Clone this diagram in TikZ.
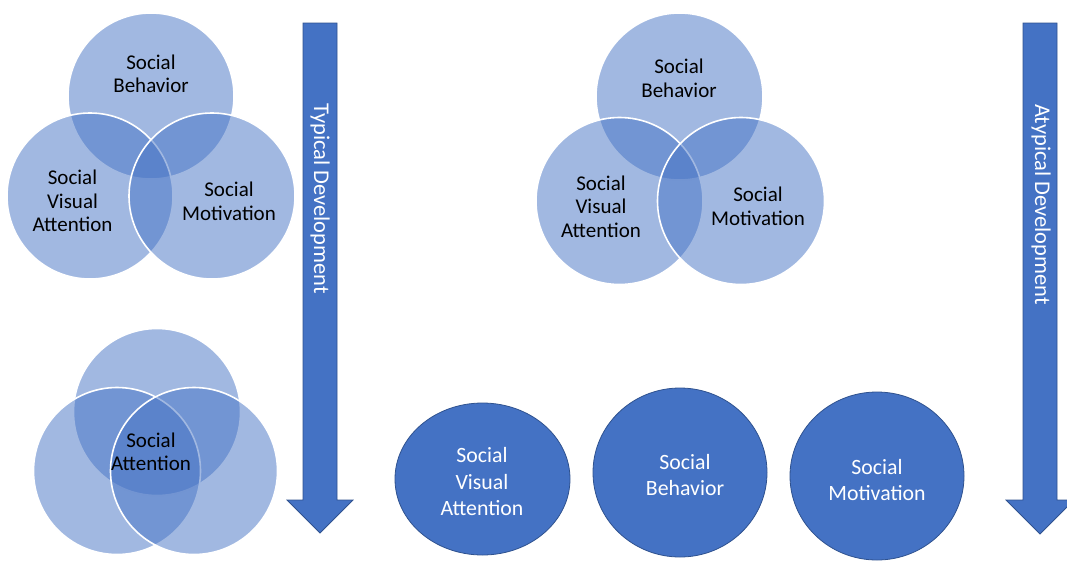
\documentclass[tikz,border=0pt]{standalone}
\usepackage{fontspec}
\setmainfont{Carlito}
\usetikzlibrary{shapes.geometric}
\definecolor{accent}{HTML}{4472C4}
\definecolor{accentdark}{HTML}{2F528F}
\begin{document}
\begin{tikzpicture}[x=1pt,y=-1pt,
  venn/.style={fill=accent, fill opacity=0.5, draw=white, draw opacity=1, line width=1.6pt},
  vennlabel/.style={text=black, align=center, inner sep=0pt, font=\fontsize{21}{23.5}\selectfont},
  solidc/.style={ellipse, fill=accent, draw=accentdark, line width=0.8pt, inner sep=0pt},
  solidlabel/.style={text=white, align=center, inner sep=0pt, font=\fontsize{21.8}{26.5}\selectfont},
  blockarrow/.style={fill=accent, draw=accentdark, line width=0.8pt, line join=miter},
  arrowlabel/.style={text=white, rotate=-90, anchor=west, inner sep=0pt, font=\fontsize{22.5}{26}\selectfont},
]
\useasboundingbox (0,0) rectangle (1067,560);
\clip (0,0) rectangle (1067,560);

% ---- typical development: three overlapping domains ----
\path[venn] (151,96) circle[radius=83];
\path[venn] (90,196) circle[radius=83];
\path[venn] (212,196) circle[radius=83];
\node[vennlabel] (tlB) at (151,74) {Social\\Behavior};
\node[vennlabel] (tlV) at (72.5,201) {Social\\Visual\\Attention};
\node[vennlabel] (tlM) at (229,201.5) {Social\\Motivation};

% ---- typical development: domains converge ----
\path[venn] (157,412) circle[radius=83.5];
\path[venn] (117,471) circle[radius=83.5];
\path[venn] (194,471) circle[radius=83.5];
\node[vennlabel] (blA) at (151,452) {Social\\Attention};

% ---- atypical development: three overlapping domains ----
\path[venn] (679.5,96.5) circle[radius=83.5];
\path[venn] (619.5,201) circle[radius=83.5];
\path[venn] (741,201) circle[radius=83.5];
\node[vennlabel] (trB) at (679,78.5) {Social\\Behavior};
\node[vennlabel] (trV) at (601,206.5) {Social\\Visual\\Attention};
\node[vennlabel] (trM) at (758,206.5) {Social\\Motivation};

% ---- atypical development: domains separate ----
\node[solidc, minimum width=175, minimum height=152] (dV) at (482.5,479) {};
\node[solidc, minimum width=174, minimum height=169] (dB) at (680,472.5) {};
\node[solidc, minimum width=174, minimum height=168] (dM) at (877,476) {};
\node[solidlabel] (dVt) at (482,482) {Social\\Visual\\Attention};
\node[solidlabel] (dBt) at (685,475) {Social\\Behavior};
\node[solidlabel] (dMt) at (877,480) {Social\\Motivation};

% ---- block arrows ----
\draw[blockarrow] (303,23) -- (337,23) -- (337,500) -- (353,500) -- (320,533)
  -- (287,500) -- (303,500) -- cycle;
\node[arrowlabel] (typ) at (320,103) {Typical Development};

\draw[blockarrow] (1023,23) -- (1057,23) -- (1057,500) -- (1074,500) -- (1040,534)
  -- (1006,500) -- (1023,500) -- cycle;
\node[arrowlabel] (atyp) at (1041,104) {Atypical Development};
\end{tikzpicture}
\end{document}
